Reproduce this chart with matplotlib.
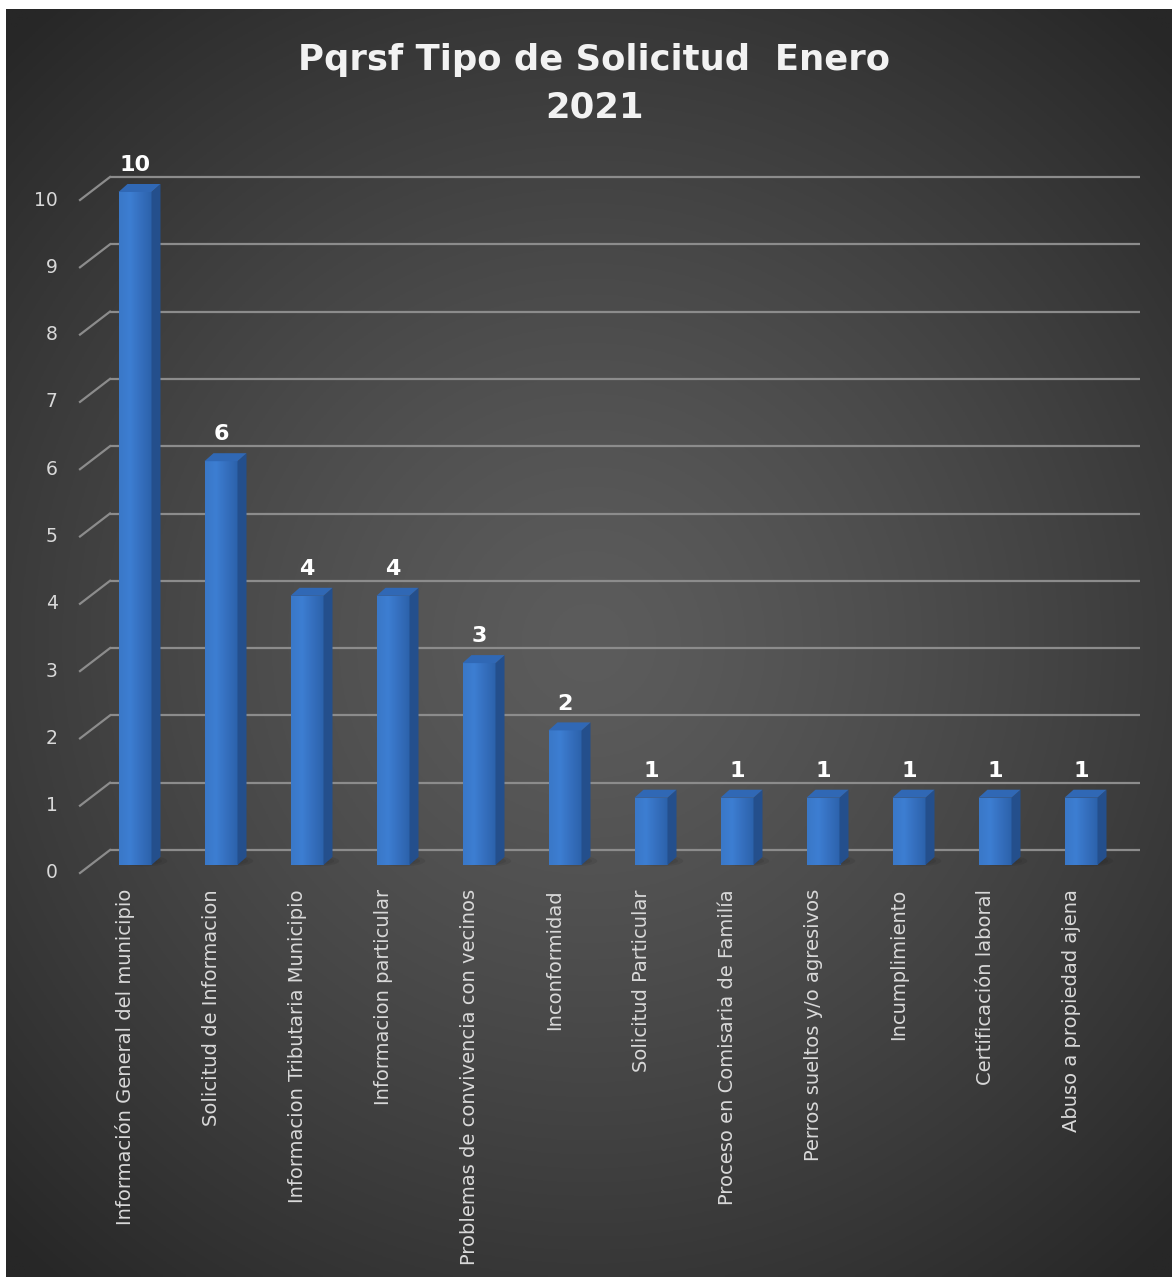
import numpy as np
import matplotlib
matplotlib.use("Agg")
import matplotlib.pyplot as plt
from matplotlib.patches import Polygon, Ellipse

categories = [
    "Información General del municipio",
    "Solicitud de Informacion",
    "Informacion Tributaria Municipio",
    "Informacion particular",
    "Problemas de convivencia con vecinos",
    "Inconformidad",
    "Solicitud Particular",
    "Proceso en Comisaria de Familía",
    "Perros sueltos y/o agresivos",
    "Incumplimiento",
    "Certificación laboral",
    "Abuso a propiedad ajena",
]
values = [10, 6, 4, 4, 3, 2, 1, 1, 1, 1, 1, 1]
y_ticks = list(range(0, 11))
title_lines = ["Pqrsf Tipo de Solicitud  Enero", "2021"]

W, H = 1172, 1277
fig = plt.figure(figsize=(W / 100, H / 100), dpi=100)
fig.patch.set_facecolor("white")

# ---- background radial gradient ----
bg = fig.add_axes([6 / W, 0, 1 - 6 / W, 1 - 9 / H])
ny, nx = 400, 400
yy, xx = np.mgrid[0:1:ny * 1j, 0:1:nx * 1j]
cx, cy = 0.50, 0.50
r = np.sqrt(((xx - cx) * 1.0) ** 2 + ((yy - cy) * 1.09) ** 2) / 0.72
r = np.clip(r, 0, 1)
c_center = np.array([0x5c, 0x5c, 0x5c]) / 255
c_edge = np.array([0x27, 0x27, 0x27]) / 255
t = r ** 1.3
img = c_center[None, None, :] * (1 - t[..., None]) + c_edge[None, None, :] * t[..., None]
bg.imshow(img, extent=[0, 1, 0, 1], aspect="auto", origin="upper")
bg.set_xlim(0, 1)
bg.set_ylim(0, 1)
bg.axis("off")

# ---- main axes mapped to the chart geometry ----
ax = fig.add_axes([0, 0, 1, 1])
ax.patch.set_alpha(0)
px0, dxp = 135.0, 86.0
py0, dyp = 865.0, 67.3
ax.set_xlim((0 - px0) / dxp, (W - px0) / dxp)
ax.set_ylim((py0 - H) / dyp, py0 / dyp)
ax.axis("off")

bar_w = 33 / dxp
sdx, sdy = 9 / dxp, 8 / dyp
gx0, gx1 = (110 - px0) / dxp, (1140 - px0) / dxp
gdy = 15 / dyp
fx, fdy = (80 - px0) / dxp, -8 / dyp

grid_col = "#8c8c8c"
for tk in y_ticks:
    ax.plot([gx0, gx1], [tk + gdy, tk + gdy], color=grid_col, lw=1.6, zorder=1,
            solid_capstyle="butt")
    ax.plot([fx, gx0], [tk + fdy, tk + gdy], color=grid_col, lw=1.6, zorder=1)
    ax.text(fx - 0.26, tk + fdy, str(tk), ha="right", va="center",
            fontsize=13.5, color="#d9d9d9")

x = np.arange(len(categories))
front_col = "#3470c0"
side_col = "#244f8c"
top_col = "#3068b5"

grad = np.linspace(0, 1, 50)
cmap = matplotlib.colors.LinearSegmentedColormap.from_list(
    "bf", ["#3a78c8", "#3d7ed2", "#356fbe", "#2c62ab"])

bars = ax.bar(x, values, width=bar_w, color=front_col, zorder=3, linewidth=0)
for xi, v, b in zip(x, values, bars):
    # soft shadow
    for k in range(3):
        ax.add_patch(Ellipse((xi + 0.10, 0.06), 0.55 - 0.12 * k, 0.16 - 0.04 * k,
                             color="black", alpha=0.07, lw=0, zorder=2))
    # front gradient
    im = ax.imshow(grad[None, :], cmap=cmap, aspect="auto",
                   extent=[xi - bar_w / 2, xi + bar_w / 2, 0, v], zorder=3.1)
    im.set_clip_path(b)
    # side face
    xr = xi + bar_w / 2
    ax.add_patch(Polygon([(xr, 0), (xr + sdx, sdy), (xr + sdx, v + sdy), (xr, v)],
                         closed=True, facecolor=side_col, edgecolor="none", zorder=3.2))
    # top face
    xl = xi - bar_w / 2
    ax.add_patch(Polygon([(xl, v), (xr, v), (xr + sdx, v + sdy), (xl + sdx, v + sdy)],
                         closed=True, facecolor=top_col, edgecolor="none", zorder=3.2))
    ax.text(xi, v + 0.31, str(v), ha="center", va="baseline", fontsize=16,
            fontweight="bold", color="white", zorder=5)

for xi, cat in zip(x, categories):
    ax.text(xi - 0.116, -0.357, cat, rotation=90, ha="center", va="top",
            fontsize=14, color="#d9d9d9", zorder=5)

fig.text(594 / W, 1 - 60 / H, title_lines[0], ha="center", va="center",
         fontsize=25.5, fontweight="bold", color="#f2f2f2")
fig.text(594 / W, 1 - 108 / H, title_lines[1], ha="center", va="center",
         fontsize=25.5, fontweight="bold", color="#f2f2f2")

fig.savefig("out.png", dpi=100, facecolor=fig.get_facecolor())
